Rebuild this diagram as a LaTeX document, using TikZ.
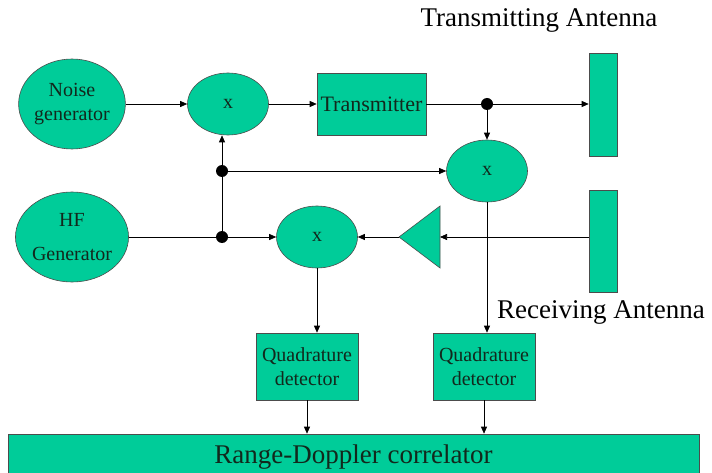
\documentclass[tikz,border=0pt]{standalone}
\usepackage{fontspec}
\setmainfont{Liberation Serif}
\usepackage{tikz}
\usetikzlibrary{shapes, arrows.meta, positioning}
\definecolor{radargreen}{RGB}{0,204,153}
\definecolor{inktext}{RGB}{18,40,28}

\begin{document}
\begin{tikzpicture}[
            x=1pt, y=-1pt,
            every node/.style={font=\fontsize{20}{24}\selectfont},
            block/.style={draw=black!70, fill=radargreen, line width=0.6pt, text=inktext},
            gen/.style={block, ellipse, minimum width=95pt, minimum height=90pt, inner sep=0pt, align=center},
            mixer/.style={block, ellipse, minimum width=81pt, minimum height=62pt, inner sep=0pt},
            unit/.style={block, rectangle, inner sep=0pt, align=center},
            antenna/.style={block, rectangle, minimum width=28pt, inner sep=0pt},
            dot/.style={circle, fill=black, minimum size=12pt, inner sep=0pt},
            sig/.style={-{Triangle[length=7pt,width=6pt]}, line width=0.7pt},
            wire/.style={line width=0.7pt},
            caption/.style={font=\fontsize{27}{32}\selectfont, inner sep=0pt}
        ]
            \useasboundingbox (0,0) rectangle (712,473);

            \node[gen] (noise) at (72,104) {Noise\\generator};
            \node[gen] (hf) at (72,237) {HF\\[10pt]Generator};
            \node[mixer] (mixa) at (228,104) {x};
            \node[unit, minimum width=109pt, minimum height=62pt, font=\fontsize{22}{26}\selectfont] (tx) at (371.5,104) {Transmitter};
            \node[dot] (split) at (487,104) {};
            \node[antenna, minimum height=103pt] (txant) at (603,104.5) {};
            \node[mixer] (mixc) at (487,171) {x};
            \node[dot] (lo) at (222,171) {};
            \node[dot] (hfsplit) at (222,237) {};
            \node[mixer] (mixb) at (317,237) {x};
            \node[antenna, minimum height=102pt] (rxant) at (603,241) {};
            \coordinate (amptip) at (399,237);
            \coordinate (ampback) at (440,237);
            \draw[block] (ampback) ++(0,-31) -- ++(0,62) -- (amptip) -- cycle;

            \node[unit, minimum width=102pt, minimum height=67pt] (qda) at (307,366.5) {Quadrature\\detector};
            \node[unit, minimum width=102pt, minimum height=67pt] (qdb) at (484,366.5) {Quadrature\\detector};
            \node[block, minimum width=691pt, minimum height=46pt, font=\fontsize{27}{32}\selectfont] (corr) at (353.5,457) {Range-Doppler correlator};

            \node[caption] (txlabel) at (539,20) {Transmitting Antenna};
            \node[caption] (rxlabel) at (601,312) {Receiving Antenna};

            \draw[sig] (noise) -- (mixa);
            \draw[sig] (mixa) -- (tx);
            \draw[wire] (tx) -- (split);
            \draw[sig] (split) -- (split -| txant.west);
            \draw[sig] (split) -- (mixc);
            \draw[sig] (lo) -- (mixc);
            \draw[sig] (lo) -- (lo |- mixa.south);
            \draw[wire] (hf) -- (hfsplit);
            \draw[wire] (hfsplit) -- (lo);
            \draw[sig] (hfsplit) -- (mixb);
            \draw[sig] (rxant.west |- ampback) -- (ampback);
            \draw[sig] (amptip) -- (mixb);
            \draw[sig] (mixb) -- (mixb |- qda.north);
            \draw[sig] (mixc) -- (mixc |- qdb.north);
            \draw[sig] (qda) -- (qda |- corr.north);
            \draw[sig] (qdb) -- (qdb |- corr.north);
        \end{tikzpicture}
\end{document}
